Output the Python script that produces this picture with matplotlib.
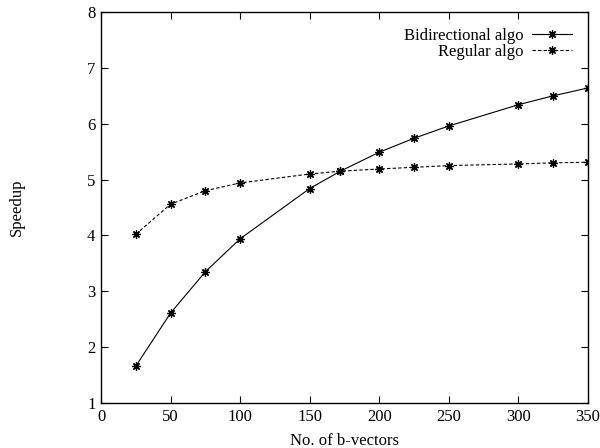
import matplotlib
matplotlib.use("Agg")
import matplotlib.pyplot as plt

# data
x_bidir = [25, 50, 75, 100, 150, 172, 200, 225, 250, 300, 325, 350]
y_bidir = [1.66, 2.61, 3.35, 3.94, 4.84, 5.15, 5.49, 5.74, 5.96, 6.34, 6.50, 6.64]

x_reg = [25, 50, 75, 100, 150, 172, 200, 225, 250, 300, 325, 350]
y_reg = [4.02, 4.56, 4.80, 4.94, 5.10, 5.15, 5.19, 5.22, 5.25, 5.28, 5.30, 5.31]

x_ticks = [0, 50, 100, 150, 200, 250, 300, 350]
y_ticks = [1, 2, 3, 4, 5, 6, 7, 8]

plt.rcParams['font.family'] = ['Liberation Serif', 'DejaVu Serif']
plt.rcParams['font.size'] = 12

fig = plt.figure(figsize=(6.0, 4.48), dpi=100)
ax = fig.add_axes([101 / 600, 1 - 403 / 448, 487 / 600, 391 / 448])

star = (8, 2, 0)
ax.plot(x_bidir, y_bidir, color='black', lw=0.8, marker=star, ms=6,
        mew=0.9, label='Bidirectional algo')
ax.plot(x_reg, y_reg, color='black', lw=0.8, ls=(0, (3, 2)), marker=star,
        ms=6, mew=0.9, label='Regular algo')

ax.set_xlim(0, 350)
ax.set_ylim(1, 8)
ax.set_xticks(x_ticks)
ax.set_yticks(y_ticks)
ax.tick_params(direction='in', top=True, right=True, length=5, width=0.8,
               pad=4, labelsize=12)
for s in ax.spines.values():
    s.set_linewidth(1.0)

ax.set_xlabel('No. of b-vectors', fontsize=12, labelpad=6)
fig.text(17 / 600, 1 - 207 / 448, 'Speedup', rotation=90, ha='center',
         va='center', fontsize=12)

ax.legend(loc='upper right', bbox_to_anchor=(0.967, 0.96), frameon=False,
          markerfirst=False, handlelength=2.4, handletextpad=0.5,
          labelspacing=0.0, borderpad=0, borderaxespad=0, fontsize=12)

fig.savefig('out.png', dpi=100)
